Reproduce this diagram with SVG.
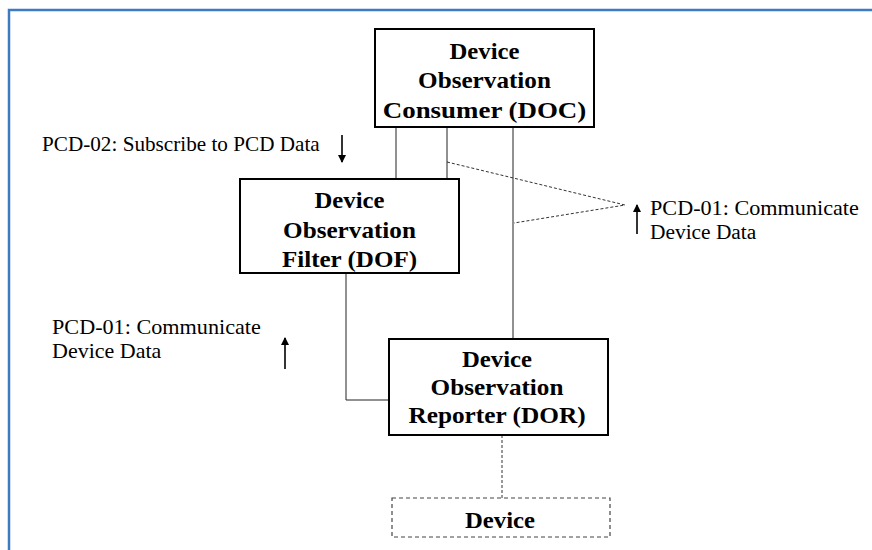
<svg xmlns="http://www.w3.org/2000/svg" width="872" height="550" viewBox="0 0 872 550">
<style>
.box{fill:#fff;stroke:#000;stroke-width:2}
.dbox{fill:#fff;stroke:#444;stroke-width:1.2;stroke-dasharray:4 3}
.t{font-family:"Liberation Serif",serif;font-weight:bold;font-size:23px;fill:#000;text-anchor:middle}
.l{font-family:"Liberation Serif",serif;font-size:20px;fill:#000}
.c{stroke:#222;stroke-width:1;fill:none}
.dc{stroke:#333;stroke-width:1;fill:none;stroke-dasharray:3 2}
.a{stroke:#000;stroke-width:1.6;fill:none}
</style>
<defs>
<marker id="ah" viewBox="0 0 8 8" refX="7" refY="4" markerWidth="8" markerHeight="8" markerUnits="userSpaceOnUse" orient="auto">
<path d="M0,0 L8,4 L0,8 z" fill="#000"/>
</marker>
</defs>
<rect width="872" height="550" fill="#fff"/>
<path d="M9,550 V10 H872" fill="none" stroke="#3c7bbf" stroke-width="2.5"/>
<g id="connectors">
<line class="c" x1="396" y1="127" x2="396" y2="179"/>
<line class="c" x1="447" y1="127" x2="447" y2="179"/>
<line class="c" x1="513" y1="127" x2="513" y2="339"/>
<polyline class="c" points="346,273 346,400 389,400"/>
<polyline class="dc" points="447,162 625,205 514,223"/>
<line class="dc" x1="502" y1="435" x2="502" y2="498"/>
</g>
<g id="doc">
<rect class="box" x="375" y="29" width="219" height="98"/>
<text class="t" transform="translate(484.5,58.5) scale(1.075,1)">Device</text>
<text class="t" transform="translate(484.5,88) scale(1.095,1)">Observation</text>
<text class="t" transform="translate(484.5,117.5) scale(1.17,1)">Consumer (DOC)</text>
</g>
<g id="dof">
<rect class="box" x="240" y="179" width="219" height="94"/>
<text class="t" transform="translate(349.5,208.3) scale(1.075,1)">Device</text>
<text class="t" transform="translate(349.5,238) scale(1.095,1)">Observation</text>
<text class="t" transform="translate(349.5,266.7) scale(1.09,1)">Filter (DOF)</text>
</g>
<g id="dor">
<rect class="box" x="389" y="339" width="219" height="96"/>
<text class="t" transform="translate(497,367) scale(1.075,1)">Device</text>
<text class="t" transform="translate(497,395) scale(1.095,1)">Observation</text>
<text class="t" transform="translate(497,423) scale(1.1,1)">Reporter (DOR)</text>
</g>
<g id="device">
<rect class="dbox" x="392" y="498" width="218" height="39"/>
<text class="t" transform="translate(500,528) scale(1.075,1)">Device</text>
</g>
<g id="labels">
<text class="l" transform="translate(42,151) scale(1.06,1)">PCD-02: Subscribe to PCD Data</text>
<line class="a" x1="342" y1="135" x2="342" y2="162" marker-end="url(#ah)"/>
<text class="l" transform="translate(650,215) scale(1.11,1)">PCD-01: Communicate</text>
<text class="l" transform="translate(650,239) scale(1.07,1)">Device Data</text>
<line class="a" x1="637" y1="234" x2="637" y2="205" marker-end="url(#ah)"/>
<text class="l" transform="translate(52,334) scale(1.11,1)">PCD-01: Communicate</text>
<text class="l" transform="translate(52,358) scale(1.1,1)">Device Data</text>
<line class="a" x1="285" y1="369" x2="285" y2="338" marker-end="url(#ah)"/>
</g>
</svg>
